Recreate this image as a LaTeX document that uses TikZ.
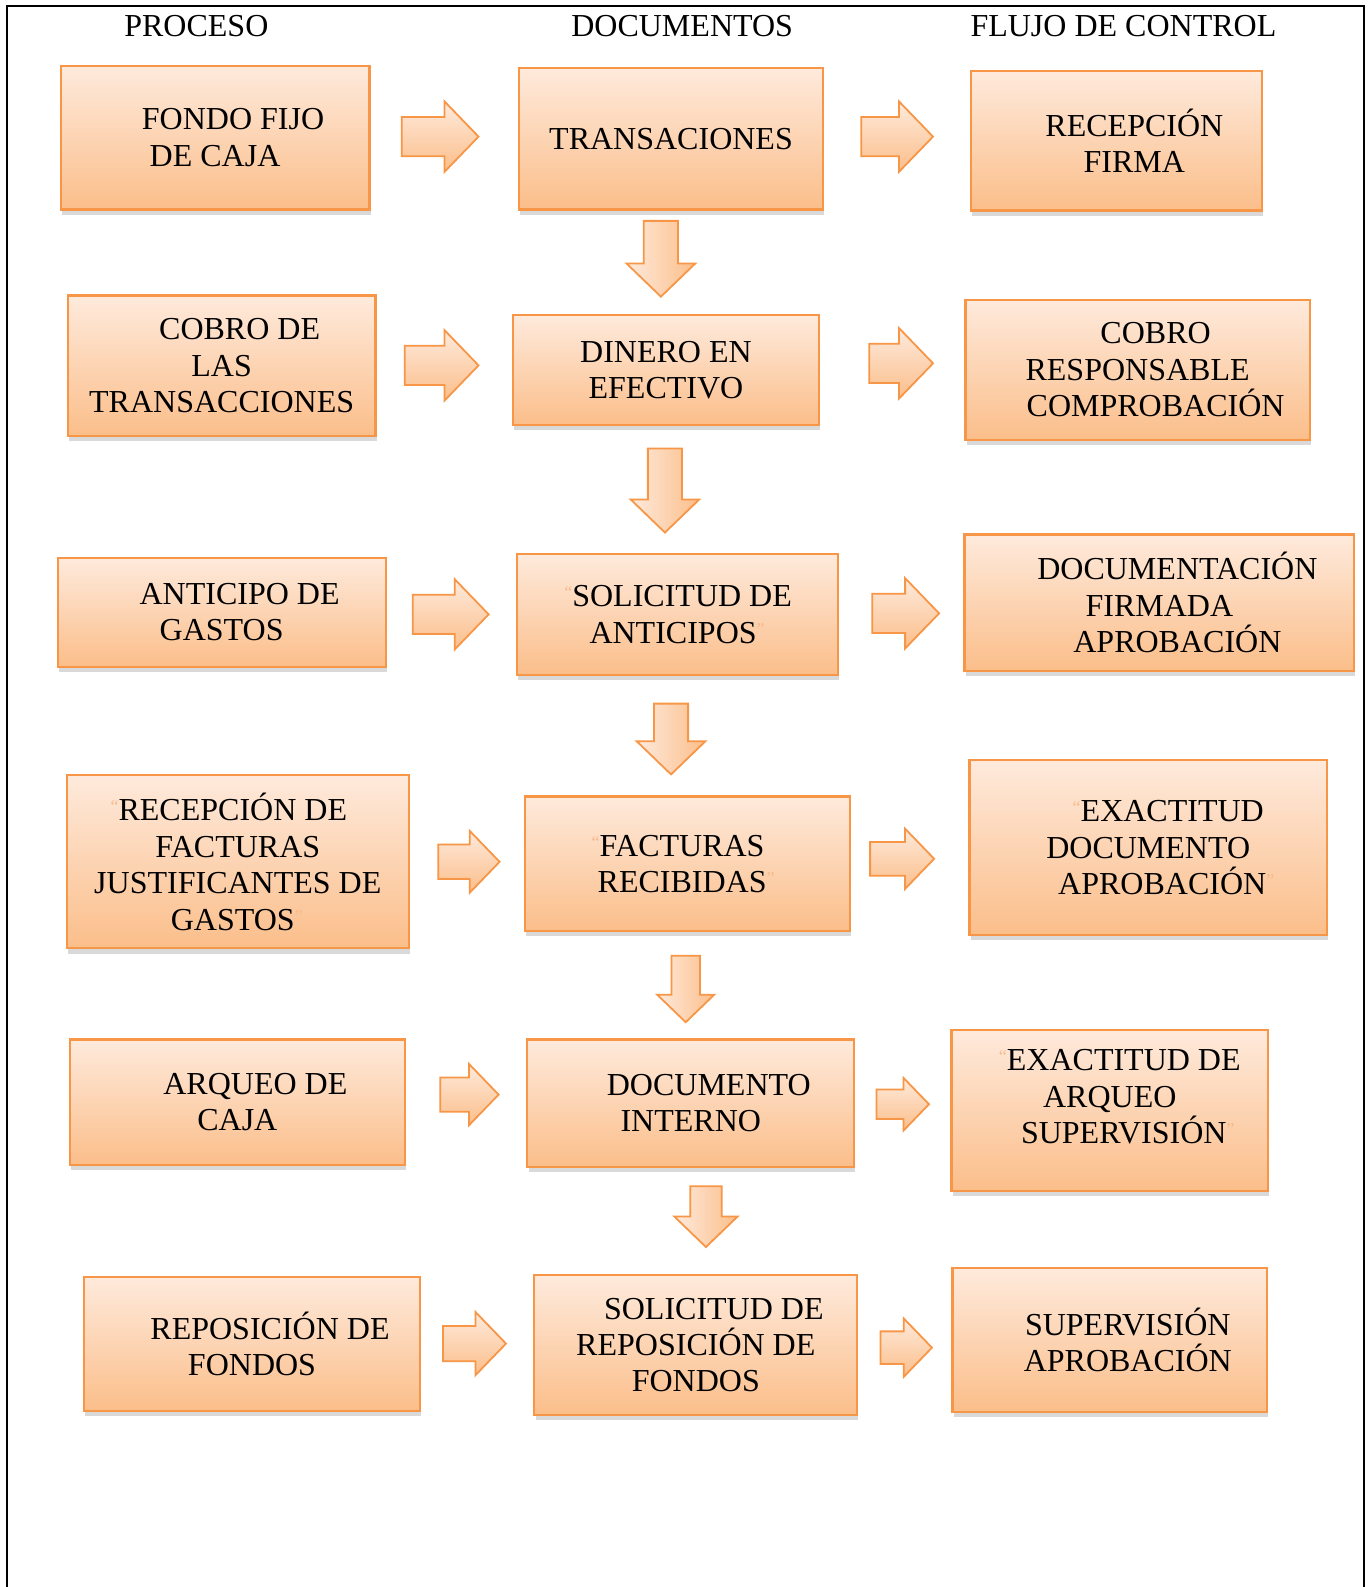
\documentclass[tikz,border=0pt]{standalone}
\usepackage{fontspec}
\setmainfont{Liberation Serif}
\usetikzlibrary{shapes.arrows,shadows}
\definecolor{peachtop}{HTML}{FEEADC}
\definecolor{peachbot}{HTML}{FBBE8A}
\definecolor{peachline}{HTML}{F79646}
\definecolor{quotecol}{HTML}{F6B98C}
\tikzset{
  stepbox/.style={rectangle, draw=peachline, line width=1.1pt, top color=peachtop, bottom color=peachbot, align=center, inner sep=0pt, font=\fontsize{16}{18.2}\selectfont, drop shadow={shadow xshift=0.6pt, shadow yshift=-2.6pt, opacity=0.3}},
  head/.style={font=\fontsize{16}{18}\selectfont},
  rarr/.style={single arrow, draw=peachline, line width=0.9pt, top color=peachtop, bottom color=peachbot, inner sep=0pt, text height=18.7pt, text depth=0pt, single arrow head extend=7.8pt, single arrow tip angle=92},
  darr/.style={rarr, rotate=-90, left color=peachtop, right color=peachbot, text height=16.2pt, single arrow head extend=8.6pt}
}
\newcommand{\ind}{\hspace*{18pt}}
% faint quote marks left in the text boxes
\newcommand{\qo}{\llap{\raisebox{4pt}{\fontsize{9}{9}\selectfont\color{quotecol}“}}}
\newcommand{\qc}{\rlap{\raisebox{4pt}{\fontsize{9}{9}\selectfont\color{quotecol}”}}}
\begin{document}
\begin{tikzpicture}[x=0.5059pt, y=-0.5059pt]
\useasboundingbox (0,0) rectangle (1355,1568);
\draw[line width=1pt] (7,1568) -- (7,6) -- (1348,6) -- (1348,1568);

% column heads
\node[head] (hproc) at (194,26) {PROCESO};
\node[head] (hdoc) at (674,26) {DOCUMENTOS};
\node[head] (hflujo) at (1110,26) {FLUJO DE CONTROL};

% process column
\node[stepbox, minimum width=154.3pt, minimum height=71.8pt] (fondo) at (212.5,136) {\ind FONDO FIJO\\DE CAJA};
\node[stepbox, minimum width=153.8pt, minimum height=70.3pt] (cobro) at (219,361.5) {\ind COBRO DE\\LAS\\TRANSACCIONES};
\node[stepbox, minimum width=163.9pt, minimum height=54.6pt] (anticipo) at (219,605) {\ind ANTICIPO DE\\GASTOS};
\node[stepbox, minimum width=171.0pt, minimum height=86.5pt] (recfact) at (235,851.5) {\qo RECEPCIÓN DE\hspace*{5pt}\\FACTURAS\\JUSTIFICANTES DE\\GASTOS\qc\hspace*{5pt}};
\node[stepbox, minimum width=167.5pt, minimum height=62.7pt] (arqueo) at (234.5,1089) {\ind ARQUEO DE\\CAJA};
\node[stepbox, minimum width=168.0pt, minimum height=66.8pt] (repos) at (249,1328) {\ind REPOSICIÓN DE\\FONDOS};

% document column
\node[stepbox, minimum width=151.8pt, minimum height=70.8pt] (trans) at (663,137) {TRANSACIONES};
\node[stepbox, minimum width=152.8pt, minimum height=55.1pt] (dinero) at (658,365.5) {DINERO EN\\EFECTIVO};
\node[stepbox, minimum width=160.4pt, minimum height=60.7pt] (solant) at (669.5,607) {\hspace*{4.5pt}\qo SOLICITUD DE\\ANTICIPOS\qc\hspace*{4.5pt}};
\node[stepbox, minimum width=162.4pt, minimum height=67.3pt] (facturas) at (679.5,853.5) {\qo FACTURAS\hspace*{5.6pt}\\RECIBIDAS\qc\hspace*{5.6pt}};
\node[stepbox, minimum width=163.4pt, minimum height=63.7pt] (docint) at (682.5,1090) {\ind DOCUMENTO\\INTERNO};
\node[stepbox, minimum width=161.4pt, minimum height=69.8pt] (solrep) at (687.5,1329) {\ind SOLICITUD DE\\REPOSICIÓN DE\\FONDOS};

% control column
\node[stepbox, minimum width=145.7pt, minimum height=69.8pt] (recep) at (1103,139) {\ind RECEPCIÓN\\\ind FIRMA};
\node[stepbox, minimum width=172.0pt, minimum height=70.3pt] (cobresp) at (1124,365.5) {\ind COBRO\\RESPONSABLE\\\ind COMPROBACIÓN};
\node[stepbox, minimum width=194.8pt, minimum height=68.3pt] (docfirm) at (1145.5,595.5) {\ind DOCUMENTACIÓN\\FIRMADA\\\ind APROBACIÓN};
\node[stepbox, minimum width=178.6pt, minimum height=87.5pt] (exdoc) at (1134.5,837.5) {\hspace*{24pt}\qo EXACTITUD\\DOCUMENTO\\\hspace*{14pt}APROBACIÓN\qc};
\node[stepbox, minimum width=158.3pt, minimum height=80.4pt] (exarq) at (1096.5,1097.5) {\hspace*{14pt}\qo EXACTITUD DE\\ARQUEO\\\hspace*{14pt}SUPERVISIÓN\qc\\[-4pt]};
\node[stepbox, minimum width=157.3pt, minimum height=71.8pt] (superv) at (1096.5,1324) {\ind SUPERVISIÓN\\\ind APROBACIÓN};

% block arrows
\node[rarr, minimum height=38.4pt] (r1a) at (425.5,135) {};
\node[rarr, minimum height=35.9pt] (r1b) at (877,135) {};
\node[rarr, minimum height=36.9pt] (r2a) at (427,361) {};
\node[rarr, minimum height=31.9pt] (r2b) at (881,359) {};
\node[rarr, minimum height=37.9pt] (r3a) at (436,607) {};
\node[rarr, minimum height=33.4pt] (r3b) at (885.5,606) {};
\node[rarr, minimum height=34.8pt, scale=0.88] (r4a) at (455.1,851.5) {};
\node[rarr, minimum height=37.2pt, scale=0.86] (r4b) at (883.3,848.5) {};
\node[rarr, minimum height=33.5pt, scale=0.87] (r5a) at (455.7,1081.5) {};
\node[rarr, minimum height=35pt, scale=0.75] (r5b) at (884.9,1091) {};
\node[rarr, minimum height=35pt, scale=0.9] (r6a) at (460.4,1327.5) {};
\node[rarr, minimum height=31pt, scale=0.83] (r6b) at (887.6,1331.5) {};
\node[darr, minimum height=37.9pt] (d1) at (653,247.5) {};
\node[darr, minimum height=42pt] (d2) at (657,476.5) {};
\node[darr, minimum height=35.4pt] (d3) at (663,722) {};
\node[darr, minimum height=40pt, scale=0.83] (d4) at (677.5,970.4) {};
\node[darr, minimum height=33pt, scale=0.92] (d5) at (697.5,1194.6) {};
\end{tikzpicture}
\end{document}
